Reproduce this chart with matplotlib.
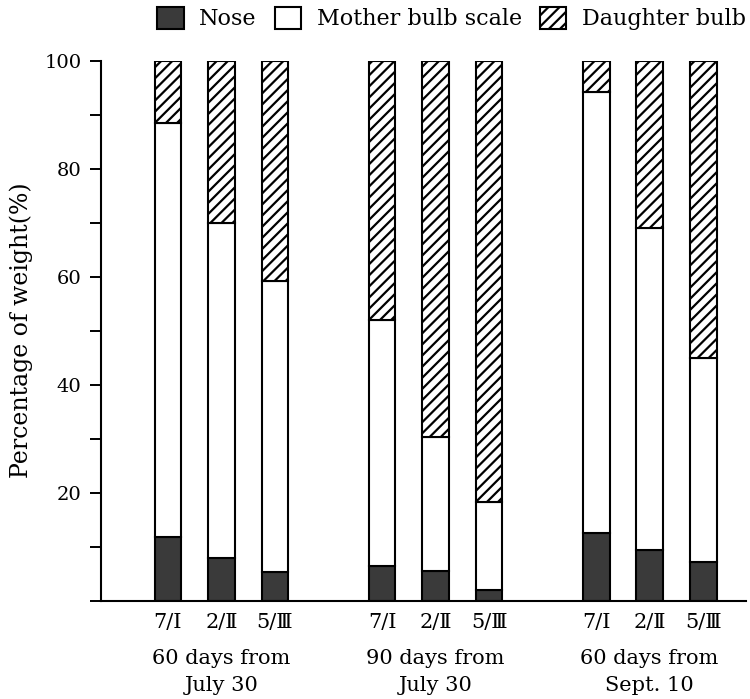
import matplotlib
matplotlib.use('Agg')
import matplotlib.pyplot as plt
from matplotlib.patches import Patch
from matplotlib.transforms import blended_transform_factory
from matplotlib.ticker import MultipleLocator

# ---- data ----
group_labels = ["60 days from\nJuly 30", "90 days from\nJuly 30", "60 days from\nSept. 10"]
cultivars = ["7/Ⅰ", "2/Ⅱ", "5/Ⅲ"]
nose = [11.7, 7.8, 5.2, 6.4, 5.5, 2.0, 12.5, 9.3, 7.2]
mother = [76.7, 62.2, 53.9, 45.5, 24.7, 16.3, 81.7, 59.7, 37.8]
daughter = [11.6, 30.0, 40.9, 48.1, 69.8, 81.7, 5.8, 31.0, 55.0]
legend_labels = ["Nose", "Mother bulb scale", "Daughter bulb"]
y_label = "Percentage of weight(%)"

plt.rcParams['font.family'] = ['DejaVu Serif', 'Noto Sans CJK JP']
plt.rcParams['hatch.linewidth'] = 1.6

fig = plt.figure(figsize=(7.5, 6.99), dpi=100)
ax = fig.add_axes([101/750, 1 - 600.5/699, (746 - 101)/750, (600.5 - 60.7)/699])

n_per = len(cultivars)
positions = [g * (n_per + 1) + i for g in range(len(group_labels)) for i in range(n_per)]
bottom2 = [a + b for a, b in zip(nose, mother)]

ew = 1.5
w = 0.5
ax.bar(positions, nose, width=w, color='#3a3a3a', edgecolor='black', linewidth=ew)
ax.bar(positions, mother, width=w, bottom=nose, color='white', edgecolor='black', linewidth=ew)
ax.bar(positions, daughter, width=w, bottom=bottom2, color='white', edgecolor='black',
       linewidth=ew, hatch='///')

ax.set_xlim(-1.25, 10.8)
ax.set_ylim(0, 100)
for s in ['top', 'right']:
    ax.spines[s].set_visible(False)
for s in ['left', 'bottom']:
    ax.spines[s].set_linewidth(1.5)

ax.yaxis.set_major_locator(MultipleLocator(20))
ax.yaxis.set_minor_locator(MultipleLocator(10))
ax.set_yticks([20, 40, 60, 80, 100])
ax.tick_params(axis='y', which='both', length=8, width=1.4, direction='out', labelsize=14, pad=6)
ax.set_xticks(positions)
ax.set_xticklabels(cultivars * len(group_labels))
ax.tick_params(axis='x', length=0, labelsize=15, pad=9)

ax.set_ylabel(y_label, fontsize=17)
ax.yaxis.set_label_coords(-0.105, 0.5)

trans = blended_transform_factory(ax.transData, ax.transAxes)
for g, lab in enumerate(group_labels):
    xs = positions[g * n_per:(g + 1) * n_per]
    xc = sum(xs) / len(xs)
    ax.text(xc, -0.09, lab, transform=trans, ha='center', va='top', fontsize=15,
            linespacing=1.5)

handles = [Patch(facecolor='#3a3a3a', edgecolor='black', linewidth=ew),
           Patch(facecolor='white', edgecolor='black', linewidth=ew),
           Patch(facecolor='white', edgecolor='black', linewidth=ew, hatch='///')]
fig.legend(handles, legend_labels, ncol=3, loc='center', bbox_to_anchor=(0.602, 0.973),
           frameon=False, fontsize=16, handlelength=1.2, handleheight=1.1,
           handletextpad=0.7, columnspacing=0.8, borderpad=0)

fig.savefig('out.png', dpi=100)
